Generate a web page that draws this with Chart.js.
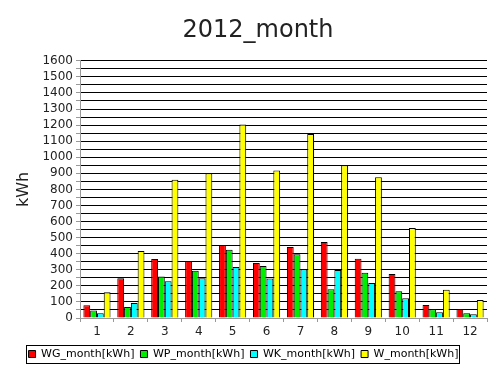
<!DOCTYPE html>
<html>
<head>
<meta charset="utf-8">
<script src="https://cdn.jsdelivr.net/npm/chart.js@4.4.1/dist/chart.umd.min.js"></script>
<style>
  html, body { margin: 0; padding: 0; background: #fff; }
  canvas { display: block; }
</style>
</head>
<body>
<canvas id="c" width="500" height="379"></canvas>
<script>
const months = ['1','2','3','4','5','6','7','8','9','10','11','12'];
const wgMonth = [79, 248, 367, 354, 454, 342, 442, 473, 369, 273, 81, 56];
const wpMonth = [46, 69, 258, 294, 425, 323, 396, 179, 281, 167, 54, 29];
const wkMonth = [29, 94, 229, 248, 317, 246, 304, 298, 217, 123, 35, 23];
const wMonth  = [160, 417, 860, 900, 1204, 917, 1144, 950, 875, 560, 175, 112];
const seriesNames = ['WG_month[kWh]', 'WP_month[kWh]', 'WK_month[kWh]', 'W_month[kWh]'];
const chartTitle = '2012_month';
const yTitle = 'kWh';

Chart.defaults.font.family = "'DejaVu Sans', sans-serif";
Chart.defaults.color = '#222';

const titleShift = {
  id: 'titleShift',
  afterLayout(chart) {
    if (chart.titleBlock) { chart.titleBlock.left += 29; }
  }
};

const legendBorder = {
  id: 'legendBorder',
  afterDraw(chart) {
    const lg = chart.legend;
    if (!lg || !lg.legendHitBoxes || !lg.legendHitBoxes.length) return;
    let l = Infinity, r = -Infinity, t = Infinity, b = -Infinity;
    lg.legendHitBoxes.forEach(h => {
      l = Math.min(l, h.left); r = Math.max(r, h.left + h.width);
      t = Math.min(t, h.top); b = Math.max(b, h.top + h.height);
    });
    const ctx = chart.ctx;
    ctx.save();
    ctx.strokeStyle = '#000';
    ctx.lineWidth = 1;
    ctx.strokeRect(Math.round(l - 3) + 0.5, Math.round(t - 4) + 0.5, Math.round(r - l + 3), Math.round(b - t + 7));
    ctx.restore();
  }
};

const mk = (label, data, color) => ({
  label, data,
  backgroundColor: color,
  borderColor: '#000',
  borderWidth: 1,
  categoryPercentage: 0.8,
  barPercentage: 1.0
});

new Chart(document.getElementById('c'), {
  type: 'bar',
  data: {
    labels: months,
    datasets: [
      mk(seriesNames[0], wgMonth, '#ff0000'),
      mk(seriesNames[1], wpMonth, '#00ee00'),
      mk(seriesNames[2], wkMonth, '#00ffff'),
      mk(seriesNames[3], wMonth, '#ffff00')
    ]
  },
  options: {
    responsive: false,
    animation: false,
    devicePixelRatio: 1,
    layout: { padding: { left: 0, right: 13, top: 0, bottom: 9.5 } },
    plugins: {
      title: {
        display: true,
        text: chartTitle,
        font: { size: 24, weight: 'normal' },
        color: '#222',
        padding: { top: 16, bottom: 16 }
      },
      legend: {
        position: 'bottom',
        labels: {
          boxWidth: 7,
          boxHeight: 7,
          padding: 6,
          font: { size: 11 },
          color: '#000'
        }
      },
      tooltip: { enabled: false }
    },
    scales: {
      x: {
        grid: { display: true, drawOnChartArea: false, offset: true, color: '#999', tickColor: '#999', tickLength: 4 },
        border: { color: '#999' },
        ticks: { font: { size: 12 }, color: '#222', padding: 3 },
        afterFit(s) { s.height = 24.5; }
      },
      y: {
        min: 0,
        max: 1600,
        ticks: {
          stepSize: 50,
          autoSkip: false,
          font: { size: 12 },
          color: '#222',
          padding: 3,
          callback: v => (v % 100 === 0 ? String(v) : '')
        },
        grid: { color: '#000', tickColor: '#999', tickLength: 4 },
        border: { color: '#999' },
        title: {
          display: true,
          text: yTitle,
          font: { size: 16 },
          color: '#222',
          padding: { top: 14, bottom: 0 }
        },
        afterFit(s) { s.width = 80; }
      }
    }
  },
  plugins: [titleShift, legendBorder]
});
</script>
</body>
</html>
